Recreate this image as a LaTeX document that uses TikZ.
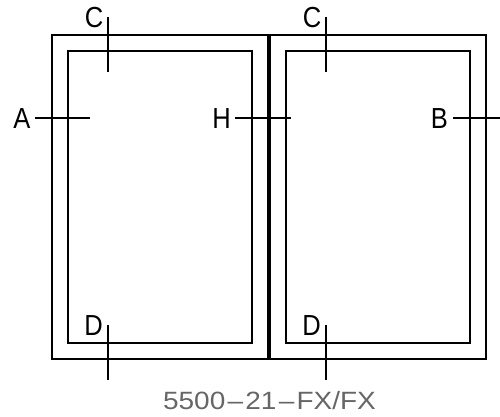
\documentclass[tikz,border=0pt]{standalone}
\usepackage{fontspec}
\setsansfont{Liberation Sans}
\tikzset{
  wall/.style={draw=black,line width=1.8pt},
  tick/.style={draw=black,line width=1.4pt},
  letter/.style={inner sep=0pt,font=\sffamily\fontsize{29}{29}\selectfont,text=black,xscale=.88},
  caption/.style={inner sep=0pt,font=\sffamily\fontsize{25}{25}\selectfont,text=black!60,xscale=1.12},
}
\begin{document}
\begin{tikzpicture}[x=1pt,y=-1pt]
\useasboundingbox (0,0) rectangle (500,417);
% outer frame
\draw[wall] (269,35) rectangle (52,359);
\draw[wall] (269,35) rectangle (486,359);
\draw[draw=black,line width=3.6pt] (269,35) -- (269,359);
% inner panels
\draw[wall] (68,51) rectangle (252,343);
\draw[wall] (286,51) rectangle (470,343);
% section marks
\coordinate (c1a) at (108,17); \coordinate (c1b) at (108,72);
\coordinate (c2a) at (326,17); \coordinate (c2b) at (326,72);
\coordinate (d1a) at (108,325); \coordinate (d1b) at (108,380);
\coordinate (d2a) at (326,325); \coordinate (d2b) at (326,380);
\coordinate (a1) at (35,118); \coordinate (a2) at (90,118);
\coordinate (h1) at (235,118); \coordinate (h2) at (291,118);
\coordinate (b1) at (453,118); \coordinate (b2) at (500,118);
\foreach \p/\q in {c1a/c1b,c2a/c2b,d1a/d1b,d2a/d2b,a1/a2,h1/h2,b1/b2}
  \draw[tick] (\p) -- (\q);
% labels
\node[letter] (lc1) at (94,18) {C};
\node[letter] (lc2) at (312,18) {C};
\node[letter] (ld1) at (93.5,326) {D};
\node[letter] (ld2) at (311.5,326) {D};
\node[letter] (la) at (22,119) {A};
\node[letter] (lh) at (221.5,119) {H};
\node[letter] (lb) at (439.5,119) {B};
\node[caption] (cap) at (269.5,401) {5500\kern2pt--\kern2pt21\kern2pt--\kern2ptFX/FX};
\end{tikzpicture}
\end{document}
